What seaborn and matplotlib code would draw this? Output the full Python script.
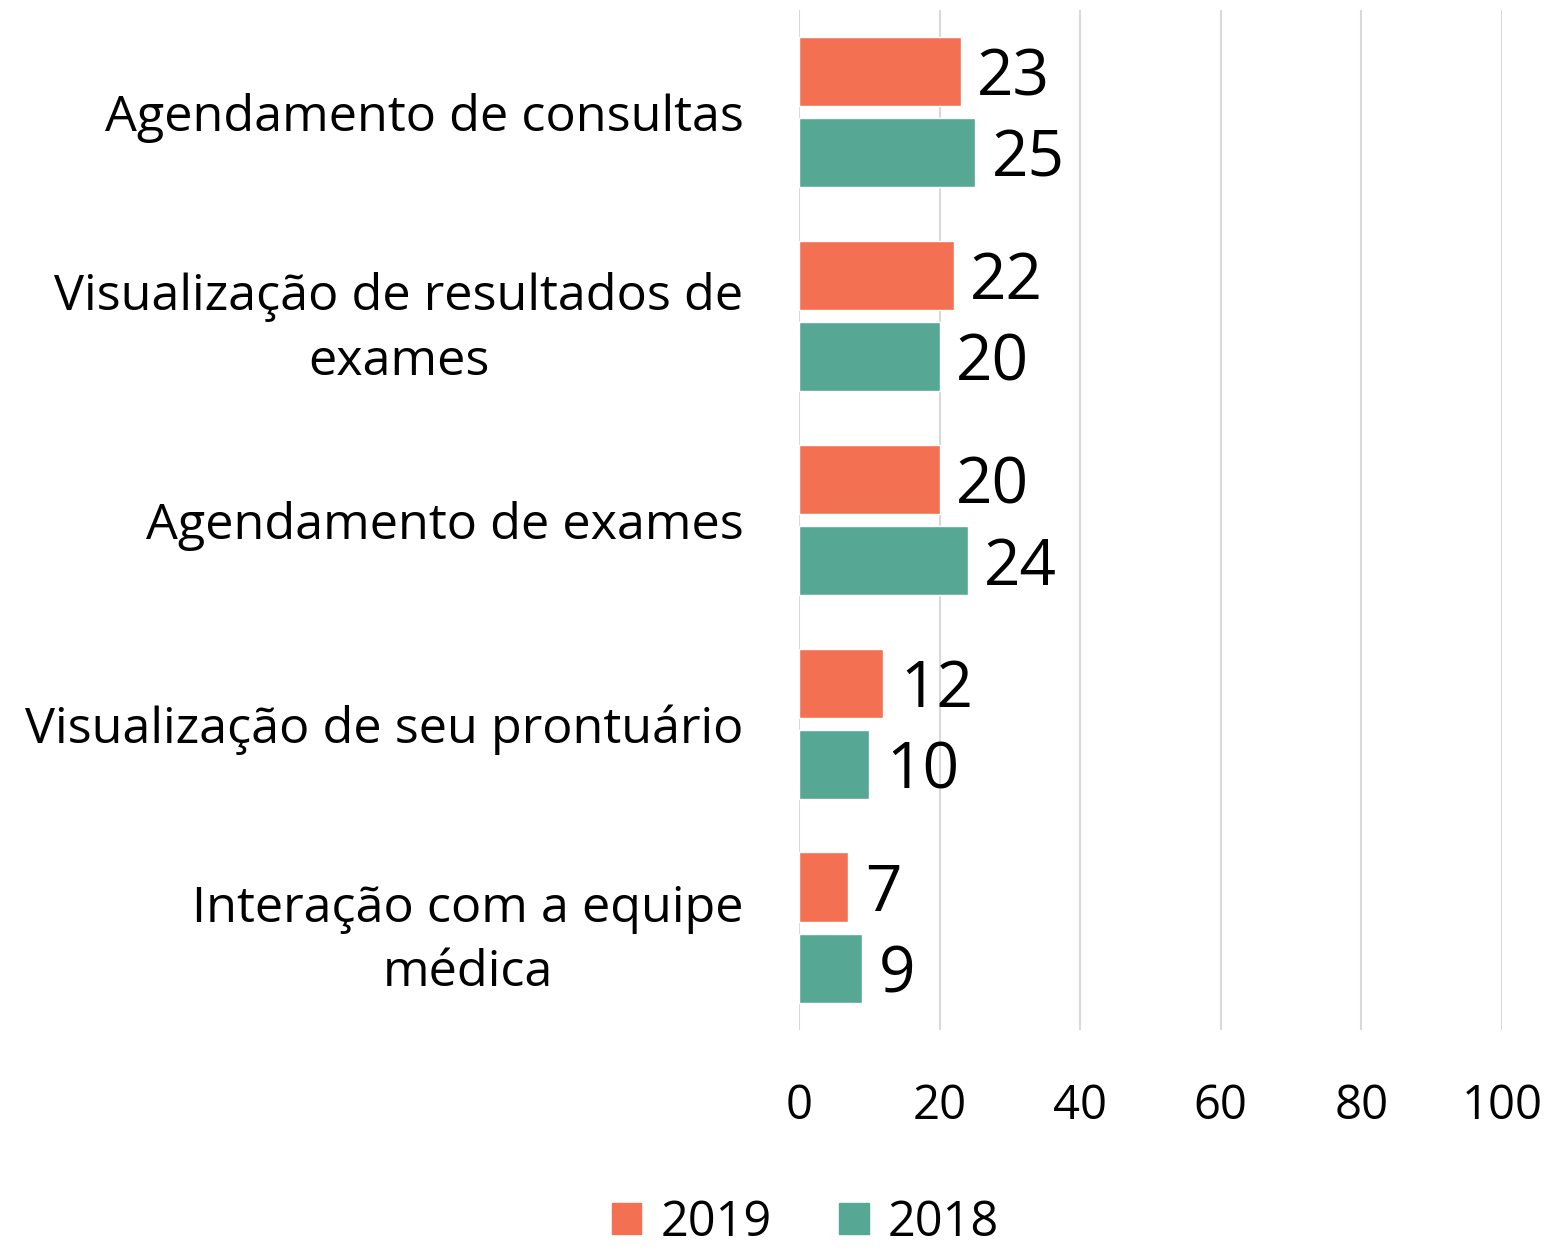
import pandas as pd
import matplotlib.pyplot as plt
import seaborn as sns

# Data
categories = [
    'Agendamento de consultas',
    'Visualização de resultados de\nexames',
    'Agendamento de exames',
    'Visualização de seu prontuário',
    'Interação com a equipe\nmédica',
]
years = ['2019', '2018']
values_2019 = [23, 22, 20, 12, 7]
values_2018 = [25, 20, 24, 10, 9]
x_ticks = [0, 20, 40, 60, 80, 100]

colors = {'2019': '#F37052', '2018': '#56A894'}

# Long table for seaborn
df = pd.DataFrame({
    'categoria': categories * 2,
    'ano': ['2019'] * len(categories) + ['2018'] * len(categories),
    'valor': values_2019 + values_2018,
})

sns.set_theme(style='white')
plt.rcParams['font.family'] = ['Open Sans', 'DejaVu Sans']
plt.rcParams['text.color'] = 'black'
plt.rcParams['xtick.color'] = 'black'
plt.rcParams['ytick.color'] = 'black'

fig = plt.figure(figsize=(15.46, 12.53), dpi=100)
ax = fig.add_axes([0.5168, 0.178, 0.4547, 0.814])

sns.barplot(data=df, y='categoria', x='valor', hue='ano', hue_order=years,
            order=categories, palette=colors, orient='h',
            width=0.8, gap=0.15, ax=ax, legend=False, saturation=1)

for cont in ax.containers:
    labels = ax.bar_label(cont, fmt='%d', padding=12, fontsize=46, color='black')
    for t in labels:
        t.xyann = (12, -5)

ax.set_xlim(0, 100)
ax.set_xticks(x_ticks)
ax.set_xticklabels([str(t) for t in x_ticks], fontsize=34)
ax.tick_params(axis='x', length=0, pad=38)
ax.tick_params(axis='y', length=0, pad=40, labelsize=36.3)
for lab in ax.get_yticklabels():
    lab.set_multialignment('center')
    lab.set_linespacing(1.4)
    if '\n' in lab.get_text():
        lab.set_y(lab.get_position()[1] - 0.04)
ax.set_xlabel('')
ax.set_ylabel('')
ax.xaxis.grid(True, color='#D9D9D9', linewidth=1.5)
ax.set_axisbelow(True)
for s in ax.spines.values():
    s.set_visible(False)

handles = [plt.Rectangle((0, 0), 1, 1, color=colors[y]) for y in years]
fig.legend(handles, years, loc='center', bbox_to_anchor=(0.521, 0.024),
           ncol=2, frameon=False, fontsize=35, handlelength=0.6, handleheight=0.6,
           handletextpad=0.4, columnspacing=1.4)

fig.savefig('out.png', dpi=100)
